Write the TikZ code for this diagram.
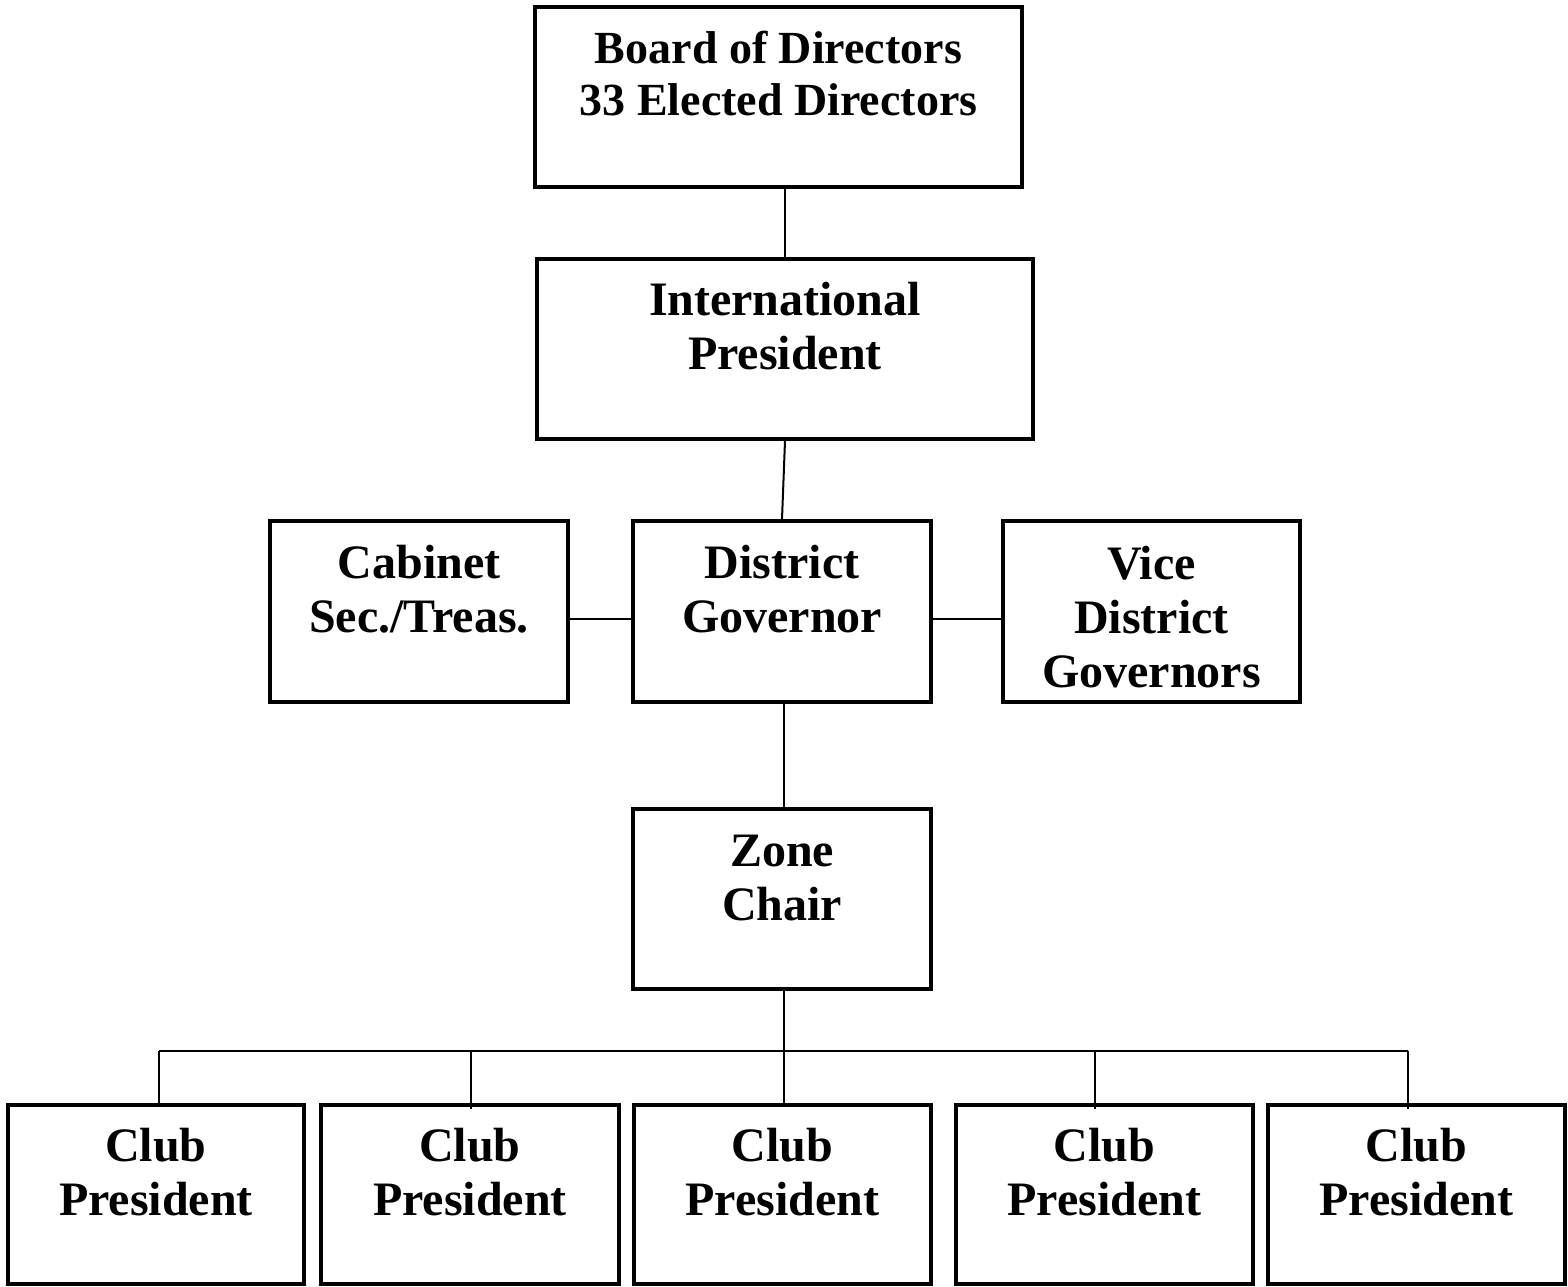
\documentclass[tikz,border=0pt]{standalone}
\usepackage{fontspec}
\setmainfont{Liberation Serif}
\begin{document}
\begin{tikzpicture}[x=1pt,y=-1pt,
  box/.style={draw=black,line width=3.5pt,inner sep=0pt,rectangle},
  lbl/.style={anchor=base,align=center,inner sep=0pt,font=\fontsize{48}{54}\selectfont\bfseries},
  lblsmall/.style={lbl,font=\fontsize{46}{52}\selectfont\bfseries},
  conn/.style={draw=black,line width=2pt}]
\useasboundingbox (0,0) rectangle (1568,1286);
% boxes
\node[box,minimum width=487pt,minimum height=180pt] (board) at (778.5,97) {};
\node[box,minimum width=496pt,minimum height=180pt] (ip) at (785,349) {};
\node[box,minimum width=298pt,minimum height=181pt] (cab) at (419,611.5) {};
\node[box,minimum width=298pt,minimum height=181pt] (dg) at (782,611.5) {};
\node[box,minimum width=297pt,minimum height=181pt] (vice) at (1151.5,611.5) {};
\node[box,minimum width=298pt,minimum height=180pt] (zone) at (782,899) {};
\node[box,minimum width=296pt,minimum height=179pt] (c1) at (156,1194.5) {};
\node[box,minimum width=298pt,minimum height=179pt] (c2) at (470,1194.5) {};
\node[box,minimum width=297pt,minimum height=179pt] (c3) at (782.5,1194.5) {};
\node[box,minimum width=297pt,minimum height=179pt] (c4) at (1104.5,1194.5) {};
\node[box,minimum width=297pt,minimum height=179pt] (c5) at (1416.5,1194.5) {};
% texts (anchor = baseline of last line)
\node[lblsmall] (tboard) at (778.5,115) {Board of Directors\\33 Elected Directors};
\node[lbl] (tip) at (785,369) {International\\President};
\node[lbl] (tcab) at (419,632) {Cabinet\\Sec./Treas.};
\node[lbl] (tdg) at (782,632) {District\\Governor};
\node[lbl] (tvice) at (1151.5,687) {Vice\\District\\Governors};
\node[lbl] (tzone) at (782,920) {Zone\\Chair};
\node[lbl] (tc1) at (156,1215) {Club\\President};
\node[lbl] (tc2) at (470,1215) {Club\\President};
\node[lbl] (tc3) at (782.5,1215) {Club\\President};
\node[lbl] (tc4) at (1104.5,1215) {Club\\President};
\node[lbl] (tc5) at (1416.5,1215) {Club\\President};
% connectors
\draw[conn] (board.south -| ip.north) -- (ip.north);
\draw[conn] (ip.south) -- (dg.north);
\coordinate (hl) at (0,619);
\draw[conn] (cab.east |- hl) -- (dg.west |- hl);
\draw[conn] (dg.east |- hl) -- (vice.west |- hl);
\draw[conn] (dg.south -| 784,0) -- (zone.north -| 784,0);
\coordinate (bus) at (784,1051);
\coordinate (b1) at (159,1051);
\coordinate (b2) at (471,1051);
\coordinate (b4) at (1095,1051);
\coordinate (b5) at (1408,1051);
\draw[conn] (zone.south -| bus) -- (bus);
\draw[conn] (b1) -- (b5);
\draw[conn] (b1) -- (b1 |- c1.north);
\draw[conn] (b2) -- ([yshift=-6pt]b2 |- c2.north);
\draw[conn] (bus) -- (bus |- c3.north);
\draw[conn] (b4) -- ([yshift=-6pt]b4 |- c4.north);
\draw[conn] (b5) -- ([yshift=-6pt]b5 |- c5.north);
\end{tikzpicture}
\end{document}
